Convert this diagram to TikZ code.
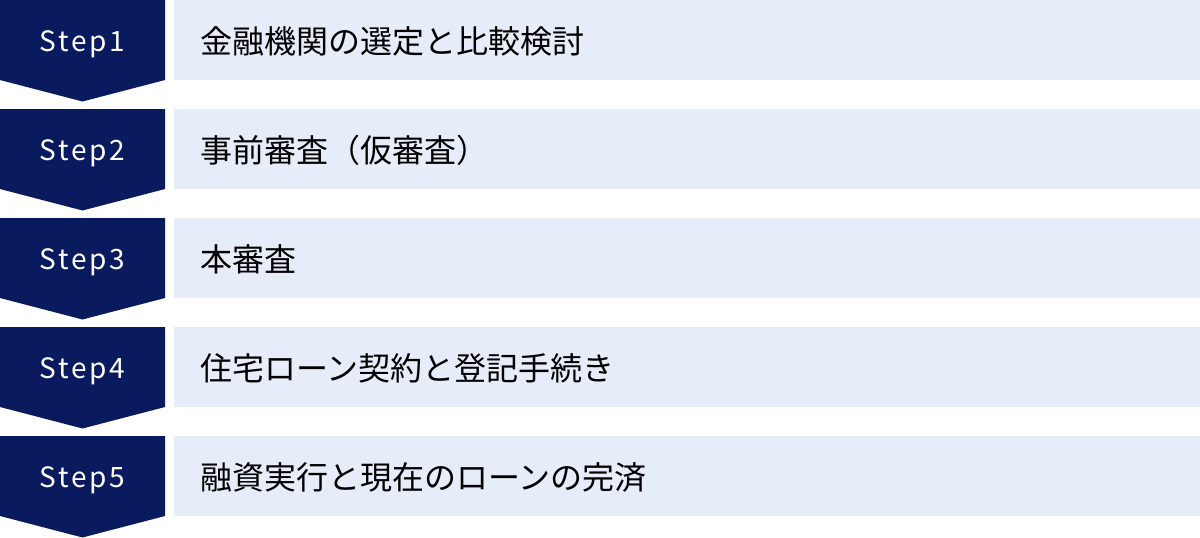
\documentclass[tikz,border=0pt]{standalone}
\usepackage{fontspec}
\newfontfamily\jpfont{Noto Sans CJK JP}
\newfontfamily\stepfont[LetterSpace=10]{Noto Sans CJK JP}
\definecolor{stepnavy}{HTML}{0A1A5F}
\definecolor{barblue}{HTML}{E6ECF8}
\begin{document}
\begin{tikzpicture}[x=1pt,y=-1pt,
  bar/.style={fill=barblue, minimum width=1026pt, minimum height=80pt,
    anchor=north west, inner sep=0pt},
  steplabel/.style={text=white, font=\stepfont\fontsize{28}{28}\selectfont},
  task/.style={font=\jpfont\fontsize{32}{32}\selectfont, anchor=west, inner sep=0pt}]
  \useasboundingbox (0,0) rectangle (1200,538);
  \foreach \n/\t [count=\i from 0] in {1/金融機関の選定と比較検討, 2/事前審査（仮審査）,
      3/本審査, 4/住宅ローン契約と登記手続き, 5/融資実行と現在のローンの完済} {
    % chevron
    \fill[stepnavy] (0,109*\i) -- ++(165,0) -- ++(0,80) -- ++(-82.5,21.5)
      -- ++(-82.5,-21.5) -- cycle;
    \node[steplabel] (step\n) at (82.5,109*\i+44) {Step\n};
    % task bar
    \node[bar] (bar\n) at (174,109*\i) {};
    \node[task] (task\n) at (200,109*\i+41) {\t};
  }
\end{tikzpicture}
\end{document}
